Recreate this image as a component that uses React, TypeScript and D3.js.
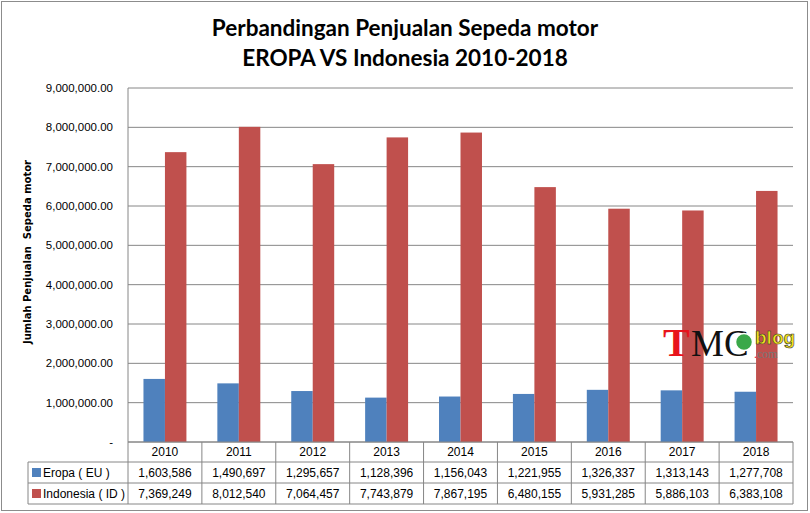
import * as React from 'react';
import * as d3 from 'd3';

const years = ['2010', '2011', '2012', '2013', '2014', '2015', '2016', '2017', '2018'];
const seriesNames = ['Eropa ( EU )', 'Indonesia ( ID )'];
const eropa = [1603586, 1490697, 1295657, 1128396, 1156043, 1221955, 1326337, 1313143, 1277708];
const indonesia = [7369249, 8012540, 7064457, 7743879, 7867195, 6480155, 5931285, 5886103, 6383108];
const yTicks = [0, 1e6, 2e6, 3e6, 4e6, 5e6, 6e6, 7e6, 8e6, 9e6];
const colors = ['#4F81BD', '#C0504D'];

const W = 810;
const H = 513;
const plotLeft = 128;
const plotRight = 793;
const plotTop = 88;
const plotBottom = 442;
const rowH = [20, 21, 21];

const font = '"Liberation Sans", Arial, sans-serif';

const App: React.FC = () => {
  const allSeries = [eropa, indonesia];
  const y = d3.scaleLinear().domain([0, 9e6]).range([plotBottom, plotTop]);
  const x0 = d3.scaleBand<string>().domain(years).range([plotLeft, plotRight]);
  const x1 = d3.scaleBand<number>().domain([0, 1]).range([0, x0.bandwidth()]).paddingOuter(0.72);
  const fmtTick = (v: number) => (v === 0 ? '-' : d3.format(',.2f')(v));
  const fmt = d3.format(',');

  const rowY = [plotBottom, plotBottom + rowH[0], plotBottom + rowH[0] + rowH[1], plotBottom + rowH[0] + rowH[1] + rowH[2]];
  const legendLeft = 28;

  return (
    <div style={{ position: 'absolute', left: 0, top: 0 }}>
      <svg width={W} height={H} style={{ display: 'block', background: '#fff' }}>
        <rect x={1.5} y={1.5} width={806} height={509} fill="#fff" stroke="#8c8c8c" />

        {/* title */}
        <text x={405} y={36} textAnchor="middle" fontFamily="Lato, sans-serif" fontWeight="bold" fontSize={22.5}>
          Perbandingan Penjualan Sepeda motor
        </text>
        <text x={405} y={66} textAnchor="middle" fontFamily="Lato, sans-serif" fontWeight="bold" fontSize={22.5}>
          EROPA VS Indonesia 2010-2018
        </text>

        {/* gridlines */}
        {yTicks.map((t) => (
          <line key={t} x1={plotLeft} x2={plotRight} y1={y(t)} y2={y(t)} stroke="#868686" strokeWidth={1} />
        ))}
        {yTicks.map((t) => (
          <text key={'l' + t} x={113} y={y(t)} dy="0.35em" textAnchor="end" fontFamily={font} fontSize={11.5} fill="#000">
            {fmtTick(t)}
          </text>
        ))}

        {/* y axis title */}
        <text
          transform={`translate(31,252) rotate(-90)`}
          textAnchor="middle"
          fontFamily='"DejaVu Sans", sans-serif'
          fontWeight="bold"
          fontSize={10}
          xmlSpace="preserve"
        >
          Jumlah Penjualan  Sepeda motor
        </text>

        {/* bars */}
        {allSeries.map((vals, si) =>
          vals.map((v, i) => (
            <rect
              key={si + '-' + i}
              x={(x0(years[i]) as number) + (x1(si) as number)}
              y={y(v)}
              width={x1.bandwidth()}
              height={plotBottom - y(v)}
              fill={colors[si]}
            />
          ))
        )}

        {/* watermark logo */}
        <g>
          <text x={663} y={356} fontFamily='"Liberation Serif", serif' fontWeight="bold" fontSize={40} fill="#e8141c">T</text>
          <text x={691} y={356} fontFamily='"Liberation Serif", serif' fontSize={37} fill="#111">MC</text>
          <circle cx={744} cy={342} r={8.5} fill="#3aa84a" stroke="#fff" strokeWidth={1.5} />
          <text x={755} y={344} fontFamily={font} fontWeight="bold" fontSize={19} fill="#f2e21a" stroke="#333" strokeWidth={0.6}>blog</text>
          <text x={754} y={358} fontFamily='"Liberation Serif", serif' fontSize={12} fill="#777">
            <tspan fill="#e8141c">.</tspan>com
          </text>
        </g>

        {/* axis line */}
        <line x1={plotLeft} x2={plotLeft} y1={plotTop} y2={plotBottom} stroke="#868686" />

        {/* data table */}
        <g stroke="#868686" strokeWidth={1} fill="none">
          {rowY.map((ry, i) => (
            <line key={'h' + i} x1={i === 0 ? plotLeft : legendLeft} x2={plotRight} y1={ry} y2={ry} />
          ))}
          <line x1={legendLeft} x2={legendLeft} y1={rowY[1]} y2={rowY[3]} />
          {years.map((yr) => (
            <line key={'v' + yr} x1={x0(yr) as number} x2={x0(yr) as number} y1={rowY[0]} y2={rowY[3]} />
          ))}
          <line x1={plotRight} x2={plotRight} y1={rowY[0]} y2={rowY[3]} />
        </g>
        {years.map((yr) => (
          <text
            key={'c' + yr}
            x={(x0(yr) as number) + x0.bandwidth() / 2}
            y={(rowY[0] + rowY[1]) / 2}
            dy="0.35em"
            textAnchor="middle"
            fontFamily={font}
            fontSize={12}
          >
            {yr}
          </text>
        ))}
        {allSeries.map((vals, si) => (
          <g key={'row' + si}>
            <rect x={legendLeft + 4} y={(rowY[si + 1] + rowY[si + 2]) / 2 - 4.5} width={9} height={9} fill={colors[si]} />
            <text x={legendLeft + 15} y={(rowY[si + 1] + rowY[si + 2]) / 2} dy="0.35em" fontFamily={font} fontSize={12}>
              {seriesNames[si]}
            </text>
            {vals.map((v, i) => (
              <text
                key={i}
                x={(x0(years[i]) as number) + x0.bandwidth() / 2}
                y={(rowY[si + 1] + rowY[si + 2]) / 2}
                dy="0.35em"
                textAnchor="middle"
                fontFamily={font}
                fontSize={12}
              >
                {fmt(v)}
              </text>
            ))}
          </g>
        ))}
      </svg>
    </div>
  );
};

export default App;
